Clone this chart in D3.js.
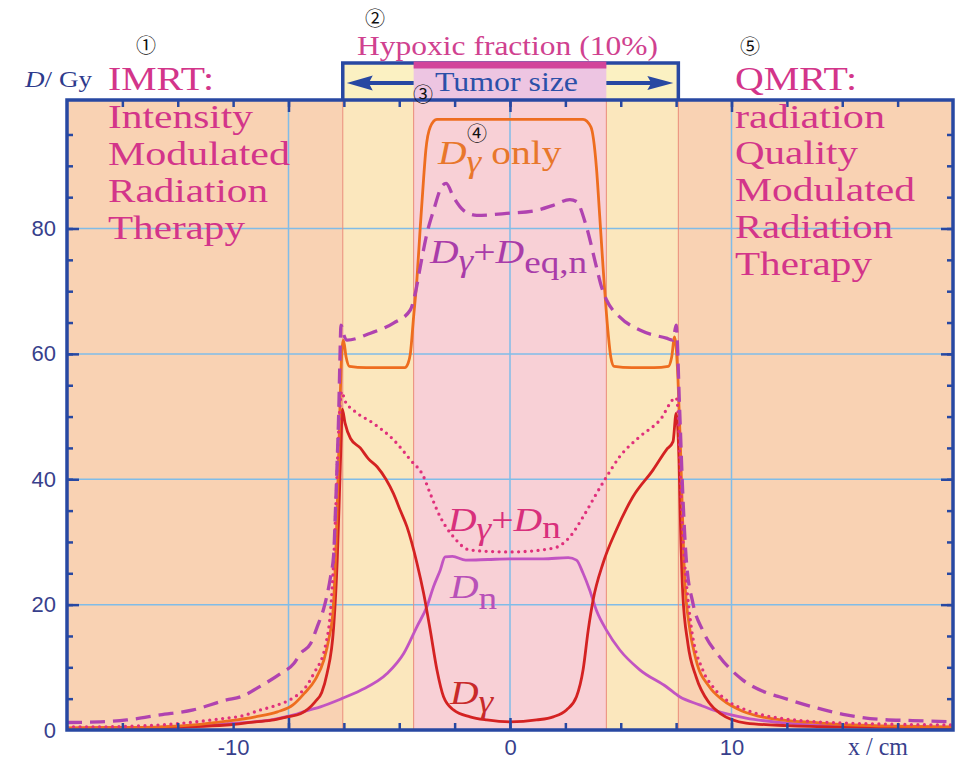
<!DOCTYPE html>
<html>
<head>
<meta charset="utf-8">
<script src="https://cdn.jsdelivr.net/npm/d3@7/dist/d3.min.js"></script>
<style>
  html, body { margin: 0; padding: 0; background: #ffffff; }
  svg { display: block; }
</style>
</head>
<body>
<svg id="chart" width="959" height="762"></svg>
<script>
// Dose profiles across the irradiated region, x in cm, dose in Gy
const doseGammaOnly = [
  [-20, 0.3], [-17.5, 0.4], [-15.8, 0.5], [-14, 0.9], [-12.8, 1.4], [-11.5, 2.1], [-10.5, 2.9],
  [-9.8, 4.0], [-9.3, 5.8], [-8.8, 8.0], [-8.4, 11.2], [-8.18, 14.5], [-7.99, 19.1], [-7.85, 29.8],
  [-7.76, 40.4], [-7.68, 51], [-7.61, 59], [-7.52, 62.2], [-7.4, 59.5], [-7.25, 58.0], [-6.5, 57.8],
  [-5.5, 57.8], [-4.75, 57.8], [-4.6, 58.5], [-4.5, 60], [-4.35, 66], [-4.2, 72], [-4.05, 80.3],
  [-3.9, 88], [-3.8, 92.5], [-3.6, 96.2], [-3.3, 97.4], [0, 97.4], [3.3, 97.4], [3.65, 96.2],
  [3.9, 89.8], [4.05, 82], [4.2, 73.9], [4.43, 63.3], [4.55, 59.5], [4.7, 58], [5.5, 57.8],
  [6.5, 57.8], [7.15, 58.0], [7.3, 59.5], [7.43, 62.7], [7.58, 56.3], [7.69, 45.7], [7.78, 35.1],
  [7.88, 24.5], [8.1, 16.5], [8.4, 11.2], [9.0, 6.9], [9.6, 4.8], [10.5, 3.0], [11.5, 2.0],
  [12.5, 1.5], [13.7, 1.2], [15.5, 0.8], [17.5, 0.6], [20, 0.5]
];

const doseGammaEqN = [
  [-20, 1.2], [-18.5, 1.3], [-17.3, 1.6], [-15.8, 2.4], [-14.3, 3.2], [-12.8, 4.8], [-12.16, 5.3],
  [-11.26, 7.0], [-10.36, 9.0], [-9.76, 10.6], [-9.46, 12.2], [-9.0, 13.8], [-8.7, 16.5],
  [-8.4, 19.5], [-8.1, 24.5], [-7.96, 28], [-7.88, 35.1], [-7.8, 43.1], [-7.73, 51.0],
  [-7.68, 59.0], [-7.63, 64.6], [-7.5, 63], [-7.36, 62.2], [-6.3, 63.3], [-5.26, 64.9],
  [-4.5, 67], [-4.28, 69.6], [-4.05, 73.9], [-3.75, 79.2], [-3.45, 82.9], [-3.08, 86.7],
  [-2.88, 87.2], [-2.55, 85.0], [-2.1, 82.9], [-1.5, 82.1], [-0.15, 82.4], [1.2, 82.9],
  [1.95, 83.7], [2.7, 84.6], [3.0, 84.3], [3.45, 80.3], [3.9, 73.9], [4.13, 70.7], [4.36, 68.6],
  [4.95, 65.9], [5.86, 63.8], [7.06, 62.5], [7.36, 62.2], [7.5, 64.6], [7.66, 51], [7.8, 37.7],
  [7.96, 27.1], [8.26, 20.2], [8.7, 15.9], [9.46, 11.7], [10.5, 8.0], [11.7, 5.8], [12.16, 5.3],
  [13.66, 3.7], [15.17, 2.4], [16.67, 1.7], [18.17, 1.5], [20, 1.3]
];

const doseGammaN = [
  [-20, 0.5], [-18.8, 0.5], [-15.8, 0.8], [-12.8, 1.9], [-12.16, 2.2], [-11.26, 3.2],
  [-10.66, 3.8], [-9.76, 5.2], [-9.3, 6.5], [-8.86, 9.0], [-8.33, 13.5], [-8.1, 19.1],
  [-7.96, 27.1], [-7.84, 37.7], [-7.76, 45.7], [-7.68, 51.6], [-7.6, 54], [-7.45, 52.5],
  [-7.06, 51.0], [-6.16, 48.9], [-5.26, 46.3], [-4.5, 43.1], [-3.9, 40.4], [-3.6, 37.7],
  [-3.15, 34.0], [-2.55, 30.8], [-1.8, 28.7], [0, 28.4], [1.95, 29.0], [2.7, 30.8], [3.3, 34.0],
  [3.9, 37.7], [4.36, 40.4], [4.95, 43.6], [5.86, 46.8], [6.76, 49.4], [7.5, 53.0], [7.6, 50],
  [7.7, 40], [7.8, 31], [7.95, 24], [8.18, 16.5], [8.7, 9.6], [9.16, 6.9], [9.76, 4.8],
  [10.66, 3.2], [12.16, 1.9], [15.17, 1.1], [20, 0.8]
];

const doseNeutron = [
  [-20, 0.2], [-15.77, 0.3], [-12.76, 1.0], [-10.66, 1.7], [-9.76, 2.4], [-9.16, 3.1],
  [-8.56, 3.7], [-7.6, 5.0], [-6.76, 6.3], [-5.55, 9.0], [-4.8, 12.2], [-4.2, 16.5],
  [-3.75, 19.7], [-3.45, 22.9], [-3.15, 25.5], [-2.93, 27.6], [-2.6, 27.7], [-2.0, 27.1],
  [-1.0, 27.2], [0, 27.3], [1.5, 27.3], [2.63, 27.5], [3.0, 27.1], [3.3, 25.0], [3.6, 22.3],
  [3.9, 19.1], [4.36, 15.9], [4.95, 12.8], [5.86, 9.6], [7.06, 6.9], [7.66, 5.3], [8.56, 4.0],
  [9.16, 3.2], [10.66, 1.9], [12.16, 1.2], [15.17, 0.6], [20, 0.4]
];

const doseGamma = [
  [-20, 0.3], [-16, 0.4], [-12.8, 0.8], [-11.5, 1.3], [-10.66, 1.6], [-10.06, 2.1], [-9.46, 2.6],
  [-8.8, 4.5], [-8.5, 6.0], [-8.26, 9.0], [-7.96, 16.5], [-7.8, 27.1], [-7.7, 37.7],
  [-7.63, 45.7], [-7.57, 51.2], [-7.45, 49], [-7.2, 46.5], [-6.76, 45.0], [-6.4, 43.3],
  [-6.0, 42.0], [-5.6, 40.0], [-5.26, 37.7], [-4.95, 35.0], [-4.65, 32.4], [-4.2, 26.6],
  [-3.9, 21.8], [-3.6, 15.9], [-3.3, 9.6], [-3.0, 5.3], [-2.55, 3.2], [-1.8, 2.1], [-1.05, 1.6],
  [0, 1.3], [1.2, 1.6], [1.95, 2.1], [2.55, 3.2], [3.0, 5.3], [3.3, 9.6], [3.53, 15.9],
  [3.75, 20.7], [4.2, 26.6], [4.8, 31.9], [5.55, 37.2], [6.46, 41.5], [7.06, 44.7], [7.36, 46.0],
  [7.5, 50.5], [7.63, 43.1], [7.7, 32.4], [7.8, 21.8], [8.03, 13.8], [8.4, 8.5], [9.0, 4.3],
  [9.5, 2.6], [10.66, 1.1], [12.5, 0.7], [15, 0.5], [20, 0.4]
];

// Region boundaries (cm): irradiated field and tumour
const fieldEdges = [-7.55, 7.6];
const tumorEdges = [-4.35, 4.35];

// Axis ticks
const xDomain = [-20, 20];
const yDomain = [0, 100.5];
const xMinorTicks = d3.range(-17.5, 20, 2.5);
const xMajorTicks = [-10, 0, 10];
const xLabelAt = [-12.5, 0, 10];
const xLabelText = ["-10", "0", "10"];
const yMinorTicks = d3.range(5, 100, 5);
const yMajorTicks = [20, 40, 60, 80];
const yLabelValues = [0, 20, 40, 60, 80];

// Side descriptions
const imrtLines = ["IMRT:", "Intensity", "Modulated", "Radiation", "Therapy"];
const qmrtLines = ["QMRT:", "radiation", "Quality", "Modulated", "Radiation", "Therapy"];

const plotL = 67, plotR = 953, plotT = 100, plotB = 730;
const svg = d3.select("#chart");
const x = d3.scaleLinear().domain(xDomain).range([plotL, plotR]);
const y = d3.scaleLinear().domain(yDomain).range([plotB, plotT]);

const blue = "#2848a2";
const serif = "'Liberation Serif', 'Times New Roman', serif";

// Background regions
const bands = [
  { x0: xDomain[0], x1: fieldEdges[0], fill: "#f9d2b3" },
  { x0: fieldEdges[0], x1: tumorEdges[0], fill: "#fbe7bd" },
  { x0: tumorEdges[0], x1: tumorEdges[1], fill: "#f8d0d6" },
  { x0: tumorEdges[1], x1: fieldEdges[1], fill: "#fbe7bd" },
  { x0: fieldEdges[1], x1: xDomain[1], fill: "#f9d2b3" }
];
svg.append("g").selectAll("rect").data(bands).join("rect")
  .attr("x", d => x(d.x0)).attr("width", d => x(d.x1) - x(d.x0))
  .attr("y", plotT).attr("height", plotB - plotT)
  .attr("fill", d => d.fill);

// Grid
const grid = svg.append("g").attr("stroke", "#80bce8").attr("stroke-width", 1.5);
grid.selectAll(".gx").data(xMajorTicks).join("line").attr("class", "gx")
  .attr("x1", d => x(d)).attr("x2", d => x(d)).attr("y1", plotT).attr("y2", plotB);
grid.selectAll(".gy").data(yMajorTicks).join("line").attr("class", "gy")
  .attr("y1", d => y(d)).attr("y2", d => y(d)).attr("x1", plotL).attr("x2", plotR);

// Region boundary lines
svg.append("g").selectAll("line").data(fieldEdges.concat(tumorEdges)).join("line")
  .attr("x1", d => x(d)).attr("x2", d => x(d)).attr("y1", plotT).attr("y2", plotB)
  .attr("stroke", "#e98b78").attr("stroke-width", 1);

// Header box above the plot: field width, tumour size, hypoxic fraction
const hTop = 63;
svg.append("rect")
  .attr("x", x(fieldEdges[0])).attr("width", x(fieldEdges[1]) - x(fieldEdges[0]))
  .attr("y", hTop).attr("height", plotT - hTop).attr("fill", "#fbf1c2");
svg.append("rect")
  .attr("x", x(tumorEdges[0])).attr("width", x(tumorEdges[1]) - x(tumorEdges[0]))
  .attr("y", hTop).attr("height", plotT - hTop).attr("fill", "#edc5e2");
svg.append("path")
  .attr("d", `M${x(fieldEdges[0])},${plotT} V${hTop} H${x(fieldEdges[1])} V${plotT}`)
  .attr("fill", "none").attr("stroke", blue).attr("stroke-width", 3.5);
svg.append("rect")
  .attr("x", x(tumorEdges[0])).attr("width", x(tumorEdges[1]) - x(tumorEdges[0]))
  .attr("y", 61.5).attr("height", 7).attr("fill", "#d2459b");

// Double-headed arrow across the tumour
const ay = 83;
const lTip = x(fieldEdges[0]) + 4, rTip = x(fieldEdges[1]) - 5;
svg.append("line").attr("x1", lTip + 20).attr("x2", x(tumorEdges[0]))
  .attr("y1", ay).attr("y2", ay).attr("stroke", blue).attr("stroke-width", 4);
svg.append("line").attr("x1", x(tumorEdges[1])).attr("x2", rTip - 20)
  .attr("y1", ay).attr("y2", ay).attr("stroke", blue).attr("stroke-width", 4);
svg.append("path").attr("d", `M${lTip},${ay} L${lTip + 26},${ay - 7.5} L${lTip + 22},${ay} L${lTip + 26},${ay + 7.5} Z`)
  .attr("fill", blue);
svg.append("path").attr("d", `M${rTip},${ay} L${rTip - 26},${ay - 7} L${rTip - 22},${ay} L${rTip - 26},${ay + 7} Z`)
  .attr("fill", blue);

svg.append("text").attr("x", 435).attr("y", 91)
  .attr("font-family", serif).attr("font-size", 27)
  .attr("textLength", 143).attr("lengthAdjust", "spacingAndGlyphs")
  .attr("fill", "#2b50a8").text("Tumor size");
svg.append("text").attr("x", 357).attr("y", 55)
  .attr("font-family", serif).attr("font-size", 27)
  .attr("textLength", 301).attr("lengthAdjust", "spacingAndGlyphs")
  .attr("fill", "#d0418f").text("Hypoxic fraction (10%)");

// Dose curves
svg.append("clipPath").attr("id", "plotClip")
  .append("rect").attr("x", plotL).attr("y", plotT).attr("width", plotR - plotL).attr("height", plotB - plotT);
const line = d3.line().x(d => x(d[0])).y(d => y(d[1])).curve(d3.curveMonotoneX);
const curves = [
  { data: doseNeutron, stroke: "#c254c2", width: 2.8, dash: null, cap: "butt" },
  { data: doseGamma, stroke: "#d42222", width: 2.8, dash: null, cap: "butt" },
  { data: doseGammaOnly, stroke: "#ee6d1f", width: 2.8, dash: null, cap: "butt" },
  { data: doseGammaN, stroke: "#e0307c", width: 3.3, dash: "0 6.5", cap: "round" },
  { data: doseGammaEqN, stroke: "#b043b0", width: 3.3, dash: "15 8", cap: "butt" }
];
const cg = svg.append("g").attr("clip-path", "url(#plotClip)");
cg.selectAll("path").data(curves).join("path")
  .attr("d", d => line(d.data))
  .attr("fill", "none")
  .attr("stroke", d => d.stroke)
  .attr("stroke-width", d => d.width)
  .attr("stroke-dasharray", d => d.dash)
  .attr("stroke-linecap", d => d.cap)
  .attr("stroke-linejoin", "round");

// Axes with inward ticks
function styleAxis(g) {
  g.select(".domain").remove();
  g.selectAll(".tick line").attr("stroke", blue).attr("stroke-width", 2.5);
  g.selectAll(".tick text").remove();
}
svg.append("g").attr("transform", `translate(0,${plotB})`)
  .call(d3.axisBottom(x).tickValues(xMinorTicks).tickSizeInner(-7).tickSizeOuter(0)).call(styleAxis);
svg.append("g").attr("transform", `translate(0,${plotB})`)
  .call(d3.axisBottom(x).tickValues(xMajorTicks).tickSizeInner(-12).tickSizeOuter(0)).call(styleAxis);
svg.append("g").attr("transform", `translate(0,${plotT})`)
  .call(d3.axisTop(x).tickValues(xMinorTicks).tickSizeInner(-7).tickSizeOuter(0)).call(styleAxis);
svg.append("g").attr("transform", `translate(0,${plotT})`)
  .call(d3.axisTop(x).tickValues(xMajorTicks).tickSizeInner(-12).tickSizeOuter(0)).call(styleAxis);
svg.append("g").attr("transform", `translate(${plotL},0)`)
  .call(d3.axisLeft(y).tickValues(yMinorTicks).tickSizeInner(-6).tickSizeOuter(0)).call(styleAxis);
svg.append("g").attr("transform", `translate(${plotL},0)`)
  .call(d3.axisLeft(y).tickValues(yMajorTicks).tickSizeInner(-12).tickSizeOuter(0)).call(styleAxis);
svg.append("g").attr("transform", `translate(${plotR},0)`)
  .call(d3.axisRight(y).tickValues(yMinorTicks).tickSizeInner(-6).tickSizeOuter(0)).call(styleAxis);
svg.append("g").attr("transform", `translate(${plotR},0)`)
  .call(d3.axisRight(y).tickValues(yMajorTicks).tickSizeInner(-12).tickSizeOuter(0)).call(styleAxis);

// Frame
svg.append("rect").attr("x", plotL).attr("y", plotT).attr("width", plotR - plotL).attr("height", plotB - plotT)
  .attr("fill", "none").attr("stroke", blue).attr("stroke-width", 3.5);

// Tick labels
const labelFont = "'Liberation Sans', sans-serif";
const labelColor = "#383f8c";
const yLab = svg.append("g").attr("transform", `translate(${plotL},0)`)
  .call(d3.axisLeft(y).tickValues(yLabelValues).tickSize(0).tickPadding(11));
yLab.select(".domain").remove();
yLab.selectAll("text").attr("font-family", labelFont).attr("font-size", 22).attr("fill", labelColor);

const xLab = svg.append("g").attr("transform", `translate(0,${plotB})`)
  .call(d3.axisBottom(x).tickValues(xLabelAt).tickSize(0).tickPadding(9)
    .tickFormat((d, i) => xLabelText[i]));
xLab.select(".domain").remove();
xLab.selectAll("text").attr("font-family", labelFont).attr("font-size", 22).attr("fill", labelColor);

svg.append("text").attr("x", 848).attr("y", 755)
  .attr("font-family", serif).attr("font-size", 25)
  .attr("textLength", 60).attr("lengthAdjust", "spacingAndGlyphs")
  .attr("fill", labelColor).text("x / cm");

const yTitle = svg.append("text").attr("x", 25).attr("y", 87)
  .attr("font-family", serif).attr("font-size", 24).attr("fill", "#2d3a8c")
  .attr("textLength", 67).attr("lengthAdjust", "spacingAndGlyphs");
yTitle.append("tspan").attr("font-style", "italic").text("D");
yTitle.append("tspan").text("/ Gy");

function block(x0, lines, baselines, widths) {
  svg.append("g").selectAll("text").data(lines).join("text")
    .attr("x", x0).attr("y", (d, i) => baselines[i])
    .attr("font-family", serif).attr("font-size", 34).attr("fill", "#d3358a")
    .attr("textLength", (d, i) => widths[i]).attr("lengthAdjust", "spacingAndGlyphs")
    .text(d => d);
}
block(108, imrtLines, [90, 128, 165, 202, 239], [106, 145, 182, 160, 137]);
block(735, qmrtLines, [90, 128, 164, 201, 238, 275], [122, 150, 123, 180, 158, 137]);

// Curve labels (subscripts are set nearly full size and lowered)
function curveLabel(x0, y0, color, parts) {
  const t = svg.append("text")
    .attr("transform", `translate(${x0},${y0}) scale(1.2,1)`)
    .attr("font-family", serif).attr("font-size", 33).attr("fill", color);
  parts.forEach(p => {
    const s = t.append("tspan").text(p.t);
    if (p.i) s.attr("font-style", "italic");
    if (p.size) s.attr("font-size", p.size);
    if (p.dy) s.attr("dy", p.dy);
  });
}
curveLabel(438, 164, "#e8772b", [
  { t: "D", i: true }, { t: "γ", i: true, dy: 8, size: 31 }, { t: " only", dy: -8 }
]);
curveLabel(430, 263, "#a93ca9", [
  { t: "D", i: true }, { t: "γ", i: true, dy: 8, size: 31 }, { t: "+", dy: -8 },
  { t: "D", i: true }, { t: "eq,n", dy: 10, size: 31 }
]);
curveLabel(448, 531, "#d8307c", [
  { t: "D", i: true }, { t: "γ", i: true, dy: 8, size: 31 }, { t: "+", dy: -8 },
  { t: "D", i: true }, { t: "n", dy: 7, size: 31 }
]);
curveLabel(450, 598, "#b851b8", [
  { t: "D", i: true }, { t: "n", dy: 11, size: 31 }
]);
curveLabel(450, 704, "#c82a2a", [
  { t: "D", i: true }, { t: "γ", i: true, dy: 8, size: 31 }
]);

// Circled markers
const markers = [
  { t: "①", cx: 146, cy: 44 }, { t: "②", cx: 375, cy: 17 }, { t: "③", cx: 423, cy: 93 },
  { t: "④", cx: 477, cy: 132 }, { t: "⑤", cx: 750, cy: 45 }
];
svg.append("g").selectAll("text").data(markers).join("text")
  .attr("x", d => d.cx).attr("y", d => d.cy)
  .attr("text-anchor", "middle").attr("dominant-baseline", "central")
  .attr("font-family", "'Noto Sans CJK JP', 'DejaVu Sans', sans-serif").attr("font-size", 20)
  .attr("fill", "#111").text(d => d.t);
</script>
</body>
</html>
